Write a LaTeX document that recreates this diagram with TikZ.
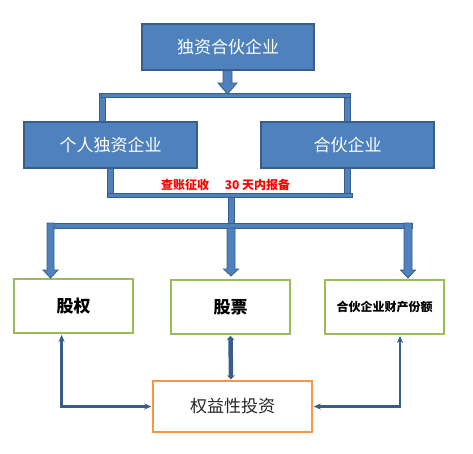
\documentclass[tikz,border=0pt]{standalone}
\usepackage{fontspec}
\setmainfont{Noto Sans CJK SC}
\usetikzlibrary{arrows.meta,calc}
\definecolor{bfill}{HTML}{4F81BD}
\definecolor{bline}{HTML}{385D8A}
\definecolor{gline}{HTML}{9BBB59}
\definecolor{oline}{HTML}{F79646}
\definecolor{ctext}{HTML}{262626}
\tikzset{
  bluebox/.style={draw=bline, fill=bfill, line width=1.5pt, minimum width=172pt, minimum height=46pt,
    text=white, font=\fontsize{17}{20}\selectfont, inner sep=0pt},
  greenbox/.style={draw=gline, fill=white, line width=1.8pt, minimum width=119pt, minimum height=54pt,
    text=black, font=\fontsize{17}{20}\selectfont\bfseries, inner sep=0pt},
  orangebox/.style={draw=oline, fill=white, line width=1.5pt, minimum width=159pt, minimum height=51pt,
    text=ctext, font=\fontsize{17}{20}\selectfont, inner sep=0pt},
  barshape/.style={fill=bfill, draw=bline, line width=0.8pt},
  conn/.style={draw=bline, line width=2.6pt, {Stealth[length=7pt,width=6pt]}-{Stealth[length=7pt,width=6pt]}},
  thickconn/.style={draw=bline, line width=4.5pt, {Stealth[length=4pt,width=8pt]}-{Stealth[length=4pt,width=8pt]}},
  redlabel/.style={text=red, font=\fontsize{12}{14}\selectfont\bfseries, inner sep=0pt}
}
\begin{document}
\begin{tikzpicture}[x=1pt,y=-1pt]
\useasboundingbox (0,0) rectangle (473,453);
% boxes
\node[bluebox] (top) at (228,47) {独资合伙企业};
\node[bluebox, minimum width=173pt] (left) at (110.5,145) {个人独资企业};
\node[bluebox, minimum width=173pt] (right) at (347.5,145) {合伙企业};
\node[greenbox] (gq) at (73.5,306) {股权};
\node[greenbox] (gp) at (230.5,307) {股票};
\node[greenbox, font=\fontsize{12}{14}\selectfont\bfseries] (hh) at (384.5,307) {合伙企业财产份额};
\node[orangebox] (qy) at (232.5,406.5) {权益性投资};
% top block arrow
\draw[barshape] (223,70.8) -- (232,70.8) -- (232,83) -- (237,83) -- (227.5,94) -- (218,83) -- (223,83) -- cycle;
% upper bracket
\draw[barshape] (99,93) rectangle (105,121.5);
\draw[barshape] (344,93) rectangle (350,121.5);
\draw[barshape] (101,93) rectangle (350,97);
% lower bracket
\draw[barshape] (107,168.8) rectangle (113,197);
\draw[barshape] (344,168.8) rectangle (350,197);
\draw[barshape] (107,193) rectangle (352,197);
\draw[barshape] (228,197) rectangle (234,224);
\draw[barshape] (48,223) rectangle (412,228);
% three down arrows
\draw[barshape] (47,223) -- (54,223) -- (54,270) -- (58,270) -- (50.5,278) -- (43,270) -- (47,270) -- cycle;
\draw[barshape] (227,228) -- (235,228) -- (235,269) -- (238.5,269) -- (231,276) -- (223.5,269) -- (227,269) -- cycle;
\draw[barshape] (404,223) -- (412,223) -- (412,270) -- (415.5,270) -- (408,278) -- (400.5,270) -- (404,270) -- cycle;
% red labels
\node[redlabel] (lab1) at (185,185) {查账征收};
\node[redlabel] (lab2) at (257.5,185) {30 天内报备};
% connectors
\coordinate (gqb) at ($(gq.south west)+(48.5,1)$);
\coordinate (hhb) at ($(hh.south)+(15.5,1)$);
\draw[conn] (gqb) |- ($(qy.west)+(-1,0)$);
\draw[conn] (hhb) |- ($(qy.east)+(1,0)$);
\draw[thickconn] ($(gp.south)+(0,1)$) -- ($(qy.north)+(-1.5,-1)$);
\end{tikzpicture}
\end{document}
